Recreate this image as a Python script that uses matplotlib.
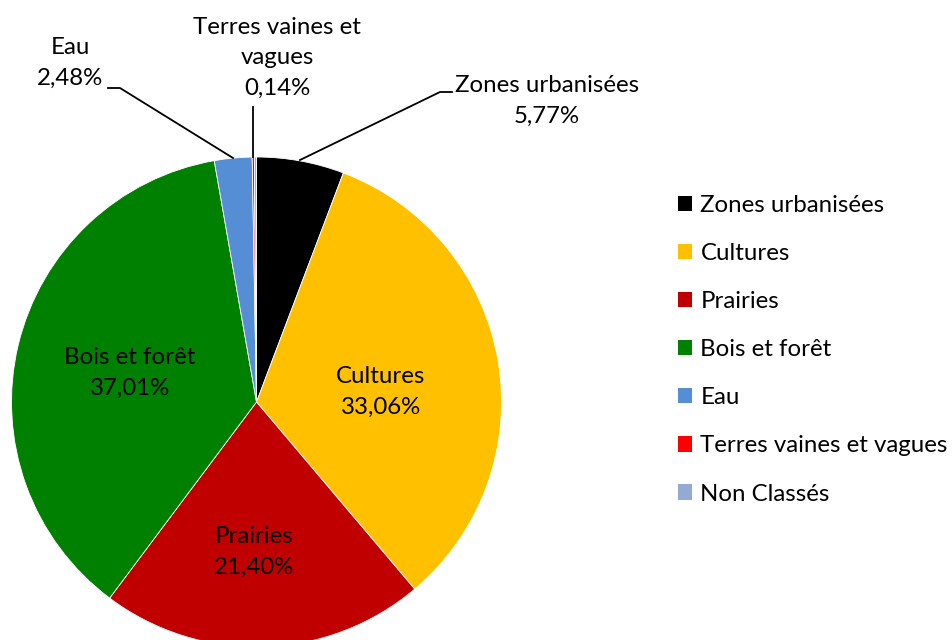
import matplotlib.pyplot as plt

plt.rcParams['font.family'] = ['Lato', 'DejaVu Sans']

# data
categories = ['Zones urbanisées', 'Cultures', 'Prairies', 'Bois et forêt',
              'Eau', 'Terres vaines et vagues', 'Non Classés']
values = [5.77, 33.06, 21.40, 37.01, 2.48, 0.14, 0.14]
colors = ['#000000', '#FFC000', '#C00000', '#008000', '#558ED5', '#FF0000', '#95AAD3']

W, H = 952, 640
fig = plt.figure(figsize=(W / 100, H / 100), dpi=100)
ax = fig.add_axes([0, 0, 1, 1])

cx, cy, r = 256.5, H - 402, 245
wedges, _ = ax.pie(values, colors=colors, startangle=90, counterclock=False,
                   center=(cx, cy), radius=r, frame=True,
                   wedgeprops=dict(linewidth=0.6, edgecolor='white'))
ax.set_xlim(0, W)
ax.set_ylim(0, H)
ax.set_aspect('equal')
ax.axis('off')

def pct(v):
    return f"{v:.2f}%".replace('.', ',')

fs = 17.3
ls = 1.55
# labels inside
inside = {1: (381, 392), 2: (254, 552), 3: (130, 373)}
for i, (x, y) in inside.items():
    ax.text(x, H - y, f"{categories[i]}\n{pct(values[i])}", ha='center', va='center',
            fontsize=fs, linespacing=ls)

# outside labels with leader lines
ax.text(547, H - 101, f"{categories[0]}\n{pct(values[0])}", ha='center', va='center',
        fontsize=fs, linespacing=ls)
ax.plot([300, 440, 452], [H - 160, H - 92, H - 92], color='black', lw=1.3)

ax.text(70, H - 63, f"{categories[4]}\n{pct(values[4])}", ha='center', va='center',
        fontsize=fs, linespacing=ls)
ax.plot([233, 120, 108], [H - 158, H - 88, H - 88], color='black', lw=1.3)

ax.text(277, H - 58, "Terres vaines et\nvagues\n" + pct(values[5]), ha='center', va='center',
        fontsize=fs, linespacing=ls)
ax.plot([253, 253], [H - 157, H - 107], color='black', lw=1.3)

leg = ax.legend(wedges, categories, loc='upper left', bbox_to_anchor=(656 / W, 1 - 173 / H),
                bbox_transform=fig.transFigure, frameon=False, fontsize=fs,
                handlelength=0.6, handleheight=0.6, handletextpad=0.35, labelspacing=1.13)
for h in leg.legend_handles:
    h.set_linewidth(0)

fig.savefig('out.png', dpi=100)
